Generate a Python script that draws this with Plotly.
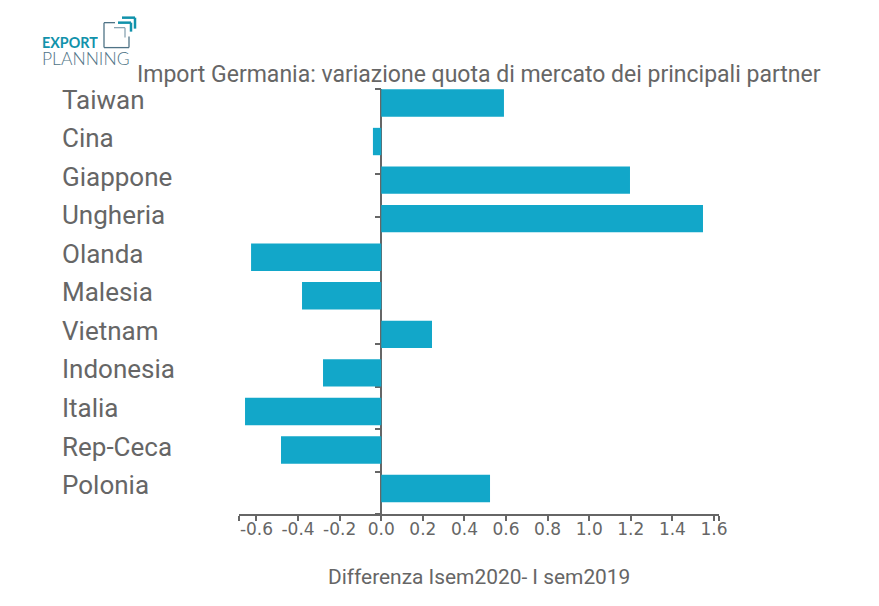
import plotly.graph_objects as go

countries = ["Taiwan","Cina","Giappone","Ungheria","Olanda","Malesia","Vietnam","Indonesia","Italia","Rep-Ceca","Polonia"]
values = [0.59,-0.04,1.196,1.547,-0.626,-0.381,0.244,-0.28,-0.655,-0.482,0.523]
tick_vals = [-0.6,-0.4,-0.2,0.0,0.2,0.4,0.6,0.8,1.0,1.2,1.4,1.6]
tick_text = ["-0.6","-0.4","-0.2","0.0","0.2","0.4","0.6","0.8","1.0","1.2","1.4","1.6"]
title = "Import Germania: variazione quota di mercato dei principali partner"
x_title = "Differenza Isem2020- I sem2019"
W, H = 879, 606
BODY = 8  # default page margin around the plot
L, R, T, B = 239, 719, 88.5, 514.5  # plot area in page pixels
X_MIN, X_MAX = -0.684, 1.624
FIRST_BAR, BAR_STEP = 102.5, 38.65  # page pixels: centre of first bar, distance between bars
GREY = "#666666"
TEAL = "#12a7c9"
LOGO = "#1192ab"
LOGO2 = "#4f7386"

positions = list(range(len(countries)))
Y_TOP = (T - FIRST_BAR) / BAR_STEP
Y_BOTTOM = (B - FIRST_BAR) / BAR_STEP
# the original axis has 10 equal tick intervals, not aligned with the 11 bars
y_ticks = [Y_TOP + (Y_BOTTOM - Y_TOP) * k / 10 for k in range(11)]

fig = go.Figure(go.Bar(x=values, y=positions, orientation="h", width=0.71, customdata=countries,
                       marker=dict(color=TEAL, line=dict(width=0)), hovertemplate="%{customdata}: %{x}<extra></extra>"))

def px(x): return (x - L) / (R - L)
def py(y): return (B - y) / (B - T)

annotations = [dict(text=c, x=px(60), y=i, xref="paper", yref="y", xanchor="left", yanchor="middle",
                    showarrow=False, font=dict(family="Roboto", size=26, color=GREY), yshift=3.4)
               for i, c in zip(positions, countries)]
annotations += [
    dict(text=title, x=px(135), y=py(73.5), xref="paper", yref="paper", xanchor="left", yanchor="middle",
         showarrow=False, font=dict(family="Roboto", size=23, color=GREY)),
    dict(text=x_title, x=px(478.5), y=py(577.5), xref="paper", yref="paper", xanchor="center", yanchor="middle",
         showarrow=False, font=dict(family="Roboto", size=20.9, color=GREY)),
    dict(text="<b>EXPORT</b>", x=px(40), y=py(41.5), xref="paper", yref="paper", xanchor="left", yanchor="middle", height=13,
         showarrow=False, font=dict(family="Lato", size=14.3, color=LOGO)),
    dict(text="PLANNING", x=px(40), y=py(58), xref="paper", yref="paper", xanchor="left", yanchor="middle", height=15,
         showarrow=False, font=dict(family="Lato", size=17.5, color=LOGO2, weight=300)),
]

def seg(x0,y0,x1,y1,color,w):
    return dict(type="line", xref="paper", yref="paper", x0=px(x0), y0=py(y0), x1=px(x1), y1=py(y1),
                line=dict(color=color, width=w))
shapes = [
    seg(104,22,104,47,LOGO2,1.3), seg(104,47,129,47,LOGO2,1.3), seg(129,47,129,36,LOGO2,1.3), seg(104,22,115,22,LOGO2,1.3),
    seg(114,27,125,27,"#8aa5b3",1.3), seg(125,27,125,37,"#8aa5b3",1.3),
    seg(118,22,131,22,LOGO,2.5), seg(131,22,131,31,LOGO,2.5),
    seg(122,17,135,17,LOGO,2.5), seg(135,17,135,28,LOGO,2.5),
]

fig.update_layout(
    width=W-2*BODY, height=H-2*BODY, autosize=False, paper_bgcolor="white", plot_bgcolor="white", showlegend=False,
    margin=dict(l=L-BODY, r=W-BODY-R, t=T-BODY, b=H-BODY-B, pad=0),
    annotations=annotations, shapes=shapes,
    xaxis=dict(range=[X_MIN,X_MAX], tickvals=[X_MIN]+tick_vals+[X_MAX], ticktext=[""]+tick_text+[""],
               ticks="outside", ticklen=5, tickcolor=GREY,
               tickwidth=1.5, showgrid=False, zeroline=False, showline=True, linecolor=GREY, linewidth=1.5,
               ticklabelstandoff=-6, tickfont=dict(family="DejaVu Sans", size=17, color=GREY)),
    yaxis=dict(range=[Y_BOTTOM, Y_TOP], tickvals=y_ticks, ticktext=[""]*len(y_ticks), ticks="outside", ticklen=6,
               tickcolor=GREY, tickwidth=1.5, showticklabels=False, showgrid=False, zeroline=False, showline=True,
               linecolor=GREY, linewidth=1.5, anchor="free", position=(0-X_MIN)/(X_MAX-X_MIN), layer="below traces"),
)
fig.write_html("out.html", config={"displayModeBar": False})
